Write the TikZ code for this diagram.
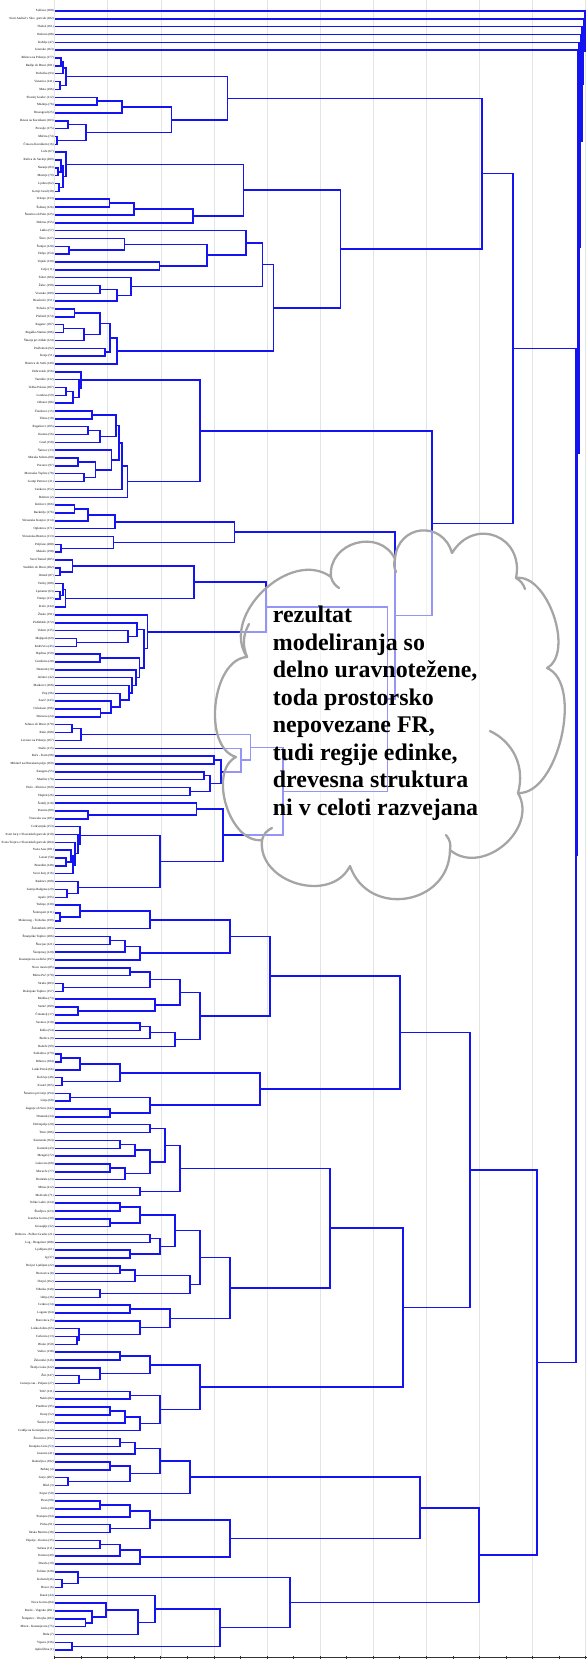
\documentclass[tikz,border=0pt]{standalone}
\usepackage{fontspec}
\setmainfont{Liberation Serif}
\usepackage{xcolor}
\usetikzlibrary{calc}

\definecolor{treeblue}{RGB}{20,20,240}
\definecolor{gridgray}{RGB}{228,228,228}
\definecolor{cloudgray}{RGB}{165,165,165}

\tikzset{
  leaf/.style = {anchor=east, inner sep=0.4pt, font=\fontsize{1.8}{2}\selectfont},
  link/.style = {draw=treeblue, line width=0.85pt},
  grid line/.style = {draw=gridgray, line width=0.4pt},
  axis/.style = {draw=black!80, line width=0.5pt},
  cloud edge/.style = {draw=cloudgray, line width=1.3pt, line join=round,
                       fill=white, fill opacity=0.55, draw opacity=1},
  crease/.style = {draw=cloudgray, line width=1.3pt, line cap=round}
}

% join two branches at height #4
\newcommand{\mrg}[4]{%
  \draw[link] (#2) -- (#4,0 |- #2) -- (#4,0 |- #3) -- (#3);
  \coordinate (#1) at ($(#4,0 |- #2)!.5!(#4,0 |- #3)$);
}

\begin{document}
\begin{tikzpicture}[x={(0.02cm,0)}, y={(0,-0.02cm)}]
\useasboundingbox (0,0) rectangle (587,1659);

% grid and axis
\foreach \t in {0,2,...,20}
  \draw[grid line] (54.7+26.55*\t,0) -- (54.7+26.55*\t,1657);
\draw[axis] (54.7,1657) -- (587,1657);
\foreach \t in {0,...,20}
  \draw[axis] (54.7+26.55*\t,1655.5) -- (54.7+26.55*\t,1658.5);

% leaves
\foreach \nm [count=\i] in {
Solčava (180), Sveti Andraž v Slov. goricah (182), Hodoš (161), Osilnica (88), Kobilje (47), Jezersko (163),
Ribnica na Pohorju (177), Radlje ob Dravi (101), Podvelka (93), Vuzenica (141), Muta (106),
Slovenj Gradec (112), Mislinja (76), Dravograd (25), Ravne na Koroškem (103), Prevalje (175), Mežica (74), Črna na Koroškem (16),
Luče (67), Rečica ob Savinji (209), Nazarje (83), Mozirje (79), Ljubno (62), Gornji Grad (30),
Velenje (133), Šoštanj (126), Šmartno ob Paki (125), Dobrna (155), Laško (57), Štore (127), Šentjur (120), Dobje (154),
Vojnik (139), Celje (11), Tabor (184), Žalec (190), Vransko (189),
Braslovče (151), Polzela (173), Prebold (174), Rogatec (107), Rogaška Slatina (106), Šmarje pri Jelšah (124), Podčetrtek (92),
Kozje (51), Bistrica ob Sotli (149), Dobrovnik (156), Turnišče (132), Velika Polana (187), Lendava (59), Odranci (86),
Črenšovci (15), Tišina (10), Rogašovci (105), Kuzma (56), Grad (158), Šalovci (33),
Murska Sobota (80), Puconci (97), Moravske Toplice (78), Gornji Petrovci (31), Cankova (152), Beltinci (2), Križevci (166),
Razkrižje (176), Slovenske Konjice (114), Oplotnica (171), Slovenska Bistrica (113), Poljčane (200), Makole (198),
Sveti Tomaž (205), Središče ob Dravi (202), Ormož (87), Veržej (188), Ljutomer (63), Vitanje (137),
Zreče (144), Žetale (191), Podlehnik (172), Videm (135), Majšperk (69), Kidričevo (45), Hajdina (159), Gorišnica (28),
Destrnik (18), Juršinci (42), Markovci (168), Ptuj (96), Zavrč (143), Cirkulane (196), Dornava (24),
Selnica ob Dravi (178), Ruše (108), Lovrenc na Pohorju (167), Starše (115),
Rače - Fram (98), Miklavž na Dravskem polju (169), Kungota (55), Maribor (70), Hoče - Slivnica (160), Duplek (26),
Šentilj (118), Pesnica (89), Trnovska vas (185), Cerkvenjak (153), Sveti Jurij v Slovenskih goricah (210),
Sveta Trojica v Slovenskih goricah (204), Sveta Ana (181), Lenart (58), Benedikt (148), Sveti Jurij (116),
Radenci (100), Gornja Radgona (29), Apače (195),
Trebnje (130), Šentrupert (211), Mokronog - Trebelno (199), Žužemberk (193), Šmarješke Toplice (206), Škocjan (121),
Šentjernej (120), Kostanjevica na Krki (197), Novo mesto (85), Mirna Peč (170), Straža (203), Dolenjske Toplice (157),
Metlika (73), Semič (109), Črnomelj (17), Sevnica (110), Krško (54), Brežice (9), Radeče (99),
Sodražica (179), Ribnica (104), Loški Potok (66), Kočevje (48), Kostel (165), Šmartno pri Litiji (194), Litija (60),
Zagorje ob Savi (142), Hrastnik (34), Dobrepolje (20), Trzin (186), Komenda (164), Kamnik (43), Mengeš (72),
Lukovica (68), Moravče (77), Domžale (23), Mirna (212), Medvode (71),
Velike Lašče (134), Škofljica (123), Ivančna Gorica (39), Grosuplje (32), Dobrova - Polhov Gradec (21),
Log - Dragomer (208), Ljubljana (61), Ig (37), Dol pri Ljubljani (22), Brezovica (8), Horjul (162), Vrhnika (140),
Idrija (36), Cerkno (14), Logatec (64), Borovnica (5), Loška dolina (65), Cerknica (13), Bloke (150),
Vodice (138), Železniki (146), Škofja Loka (122), Žiri (147), Gorenja vas - Poljane (27), Tržič (131), Naklo (82),
Preddvor (95), Kranj (52), Šenčur (117), Cerklje na Gorenjskem (12), Žirovnica (192), Kranjska Gora (53),
Jesenice (41), Radovljica (102), Bohinj (4), Gorje (207), Bled (3), Koper (50),
Piran (90), Izola (40), Postojna (94), Pivka (91), Ilirska Bistrica (38), Hrpelje - Kozina (35), Sežana (111),
Komen (49), Divača (19), Tolmin (128), Kobarid (46), Bovec (6), Kanal (44), Nova Gorica (84),
Renče - Vogrsko (201), Šempeter - Vrtojba (183), Miren - Kostanjevica (75), Brda (7), Vipava (136), Ajdovščina (1)} {
  \node[leaf] (t\i) at (54.7,{11+7.843*(\i-1)}) {\nm};
  \coordinate (l\i) at (54.7,{11+7.843*(\i-1)});
}

% Koroška
\mrg{k1}{l7}{l8}{61}
\mrg{k2}{k1}{l9}{63}
\mrg{k3}{l10}{l11}{60}
\mrg{k4}{k2}{k3}{66}
\mrg{k5}{l12}{l13}{97}
\mrg{k6}{k5}{l14}{122}
\mrg{k7}{l15}{l16}{68}
\mrg{k8}{l17}{l18}{57}
\mrg{k9}{k7}{k8}{86}
\mrg{k10}{k6}{k9}{171.6}
\mrg{kk}{k4}{k10}{227.4}
% Savinjska
\mrg{s1}{l21}{l22}{58}
\mrg{s2}{l20}{s1}{61}
\mrg{s3}{l23}{l24}{59}
\mrg{s4}{s2}{s3}{63}
\mrg{s5}{l19}{s4}{66}
\mrg{s6}{l25}{l26}{109.6}
\mrg{s7}{s6}{l27}{134}
\mrg{s8}{s7}{l28}{193}
\mrg{ss}{s5}{s8}{243.5}
\mrg{t1}{l31}{l32}{69}
\mrg{t2}{l30}{t1}{124.7}
\mrg{t3}{l33}{l34}{159.6}
\mrg{t4}{t2}{t3}{206.9}
\mrg{t5}{l29}{t4}{246}
\mrg{t6}{l36}{l37}{100}
\mrg{t7}{t6}{l38}{116.8}
\mrg{t8}{l35}{t7}{131}
\mrg{t9}{t5}{t8}{262.3}
\mrg{t10}{l39}{l40}{74.7}
\mrg{t11}{l41}{l42}{63.7}
\mrg{t12}{t11}{l43}{84}
\mrg{t13}{t10}{t12}{100}
\mrg{t14}{l44}{l45}{105}
\mrg{t15}{t13}{t14}{110}
\mrg{t16}{t15}{l46}{116.8}
\mrg{tt}{t9}{t16}{273.6}
\mrg{a1b}{ss}{tt}{340.4}
\mrg{a1}{kk}{a1b}{482}
% Pomurska
\mrg{p1}{l49}{l50}{66}
\mrg{p2}{p1}{l51}{73}
\mrg{p3}{l48}{p2}{79}
\mrg{p4}{l47}{p3}{80.8}
\mrg{p5}{l52}{l53}{92}
\mrg{p6}{l54}{l55}{88}
\mrg{p7}{p6}{l56}{100}
\mrg{p8}{p5}{p7}{116}
\mrg{p9}{l58}{l59}{78}
\mrg{p10}{l60}{l61}{84}
\mrg{p11}{p9}{p10}{95.5}
\mrg{p12}{l57}{p11}{111.6}
\mrg{p13}{p8}{p12}{119}
\mrg{p14}{p13}{l62}{122}
\mrg{p15}{p14}{l63}{127.7}
\mrg{pp}{p4}{p15}{200}
% Podravska
\mrg{q1}{l64}{l65}{74.7}
\mrg{q2}{q1}{l66}{88}
\mrg{q3}{q2}{l67}{115}
\mrg{q4}{l69}{l70}{61}
\mrg{q5}{l68}{q4}{113.7}
\mrg{q6}{q3}{q5}{234.3}
\mrg{r1}{l72}{l73}{60}
\mrg{r2}{l71}{r1}{72.3}
\mrg{r3}{l75}{l76}{60}
\mrg{r4}{l74}{r3}{63}
\mrg{r5}{r4}{l77}{65.4}
\mrg{r6}{r2}{r5}{193.8}
\mrg{n1}{l81}{l82}{76.4}
\mrg{n2}{l80}{n1}{128}
\mrg{n3}{l79}{n2}{137}
\mrg{n4}{l90}{l91}{100.3}
\mrg{n5}{l89}{n4}{110.9}
\mrg{n6}{l88}{n5}{120.2}
\mrg{n7}{l87}{n6}{128.8}
\mrg{n8}{l86}{n7}{132}
\mrg{n9}{l85}{n8}{136}
\mrg{n10}{l83}{l84}{100}
\mrg{n11}{n10}{n9}{139.7}
\mrg{n12}{n3}{n11}{144}
\mrg{n13}{l78}{n12}{147.6}
\mrg{r7}{r6}{n13}{266}
\mrg{w1}{l92}{l93}{72}
\mrg{w2}{w1}{l94}{80.8}
\mrg{w3}{l96}{l97}{214}
\mrg{w4}{l98}{l99}{204}
\mrg{w4b}{l100}{l101}{190}
\mrg{w5}{w4}{w4b}{210}
\mrg{w6}{w3}{w5}{221.2}
\mrg{w7}{l95}{w6}{241}
\mrg{w8}{w2}{w7}{250.4}
\mrg{x1}{l103}{l104}{88}
\mrg{x2}{l102}{x1}{196.6}
\mrg{y1}{l109}{l110}{66}
\mrg{y2}{l108}{y1}{71}
\mrg{y3}{y2}{l111}{73}
\mrg{y4}{l107}{y3}{75}
\mrg{y5}{l106}{y4}{78}
\mrg{y6}{l105}{y5}{80}
\mrg{y7}{l113}{l114}{67}
\mrg{y8}{l112}{y7}{78}
\mrg{y9}{y6}{y8}{160}
\mrg{x4}{x2}{y9}{223}
\mrg{x5}{w8}{x4}{283}
\mrg{q7}{r7}{x5}{387.4}
\mrg{qq}{q6}{q7}{395}
\mrg{a2}{pp}{qq}{431.9}
\mrg{aa}{a1}{a2}{513}

% Dolenjska
\mrg{d1}{l116}{l117}{60}
\mrg{d2}{l115}{d1}{80}
\mrg{d3}{d2}{l118}{150}
\mrg{d4}{l119}{l120}{110}
\mrg{d5}{d4}{l121}{125}
\mrg{d6}{d5}{l122}{140}
\mrg{d7}{d3}{d6}{230}
\mrg{d8}{l123}{l124}{130}
\mrg{d9}{l125}{l126}{63}
\mrg{d10}{d8}{d9}{150}
\mrg{d11}{l128}{l129}{78}
\mrg{d12}{l127}{d11}{155}
\mrg{d13}{d10}{d12}{180}
\mrg{d14}{l130}{l131}{140}
\mrg{d15}{d14}{l132}{150}
\mrg{d16}{d15}{l133}{175}
\mrg{d17}{d13}{d16}{200}
\mrg{dd}{d7}{d17}{270}
% Kočevska, Zasavska
\mrg{e1}{l134}{l135}{61}
\mrg{e2}{e1}{l136}{80}
\mrg{e3}{l137}{l138}{62}
\mrg{e4}{e2}{e3}{120}
\mrg{e5}{l139}{l140}{70}
\mrg{e6}{l141}{l142}{110}
\mrg{e7}{e5}{e6}{150}
\mrg{ee}{e4}{e7}{260}
% Osrednjeslovenska
\mrg{o1}{l143}{l144}{150}
\mrg{o2}{l145}{l146}{120}
\mrg{o3}{o2}{l147}{135}
\mrg{o4}{l148}{l149}{110}
\mrg{o5}{o4}{l150}{125}
\mrg{o6}{o3}{o5}{150}
\mrg{o7}{o1}{o6}{165}
\mrg{o8}{l151}{l152}{140}
\mrg{o9}{o7}{o8}{180}
\mrg{o10}{l153}{l154}{120}
\mrg{o11}{l155}{l156}{110}
\mrg{o12}{o10}{o11}{140}
\mrg{o13}{l157}{l158}{150}
\mrg{o14}{l159}{l160}{130}
\mrg{o15}{o13}{o14}{160}
\mrg{o16}{o12}{o15}{175}
\mrg{o17}{l161}{l162}{120}
\mrg{o18}{o17}{l163}{135}
\mrg{o19}{l164}{l165}{100}
\mrg{o20}{o18}{o19}{190}
\mrg{o21}{o16}{o20}{200}
\mrg{o22}{l166}{l167}{130}
\mrg{o23}{l170}{l171}{77}
\mrg{o24}{l169}{o23}{79}
\mrg{o25}{l168}{o24}{140}
\mrg{o26}{o22}{o25}{170}
\mrg{o27}{o21}{o26}{230}
\mrg{oo}{o9}{o27}{330}
% Gorenjska
\mrg{h1}{l172}{l173}{120}
\mrg{h2}{l175}{l176}{79}
\mrg{h3}{l174}{h2}{100}
\mrg{h4}{h1}{h3}{150}
\mrg{h5}{l177}{l178}{130}
\mrg{h6}{l179}{l180}{110}
\mrg{h7}{h6}{l181}{125}
\mrg{h8}{h7}{l182}{140}
\mrg{h9}{h5}{h8}{160}
\mrg{h10}{h4}{h9}{200}
\mrg{h11}{l183}{l184}{120}
\mrg{h12}{h11}{l185}{135}
\mrg{h13}{l186}{l187}{110}
\mrg{h14}{l188}{l189}{68}
\mrg{h15}{h13}{h14}{130}
\mrg{h16}{h12}{h15}{160}
\mrg{h17}{h16}{l190}{190}
% Obalno-kraška
\mrg{c1}{l191}{l192}{100}
\mrg{c2}{c1}{l193}{130}
\mrg{c3}{l194}{l195}{110}
\mrg{c4}{c2}{c3}{150}
\mrg{c5}{l196}{l197}{100}
\mrg{c6}{c5}{l198}{120}
\mrg{c7}{c6}{l199}{140}
\mrg{cc}{c4}{c7}{230}
% Goriška
\mrg{g1}{l201}{l202}{62}
\mrg{g2}{l200}{g1}{78}
\mrg{g3}{l206}{l207}{85.4}
\mrg{g4}{l205}{g3}{92}
\mrg{g5}{l204}{g4}{106}
\mrg{g6}{g5}{l208}{138}
\mrg{g7}{l203}{g6}{155}
\mrg{g8}{l209}{l210}{72}
\mrg{g9}{g7}{g8}{220}
\mrg{gg}{g2}{g9}{290}
% upper joins of the lower part
\mrg{b1}{dd}{ee}{400}
\mrg{b2}{oo}{h10}{403}
\mrg{b3}{b1}{b2}{470}
\mrg{hc}{h17}{cc}{420}
\mrg{b4}{hc}{gg}{479}
\mrg{bb}{b3}{b4}{537}

% root
\mrg{rt1}{aa}{bb}{576}
\mrg{rt2}{l6}{rt1}{577.5}
\mrg{rt3}{l5}{rt2}{579}
\mrg{rt4}{l4}{rt3}{580.5}
\mrg{rt5}{l3}{rt4}{582}
\mrg{rt6}{l2}{rt5}{583.5}
\mrg{rt7}{l1}{rt6}{585}

% cloud with comment
\coordinate (cu1) at (247,657);
\coordinate (cu2) at (331,577);
\coordinate (cu3) at (395,559);
\coordinate (cu4) at (452,553);
\coordinate (cu5) at (516,578);
\coordinate (cu6) at (547,668);
\coordinate (cu7) at (518,793);
\coordinate (cu8) at (450,850);
\coordinate (cu9) at (350,866);
\coordinate (cu10) at (262,840);
\coordinate (cu11) at (236,757);
\path[cloud edge] (cu1) to[bend left=80, looseness=1.1] (cu2)
  to[bend left=80, looseness=1.35] (cu3)
  to[bend left=80, looseness=1.55] (cu4)
  to[bend left=80, looseness=1.6] (cu5)
  to[bend left=80, looseness=0.85] (cu6)
  to[bend left=80, looseness=0.8] (cu7)
  to[bend left=80, looseness=1.2] (cu8)
  to[bend left=80, looseness=1.4] (cu9)
  to[bend left=80, looseness=1.2] (cu10)
  to[bend left=80, looseness=0.95] (cu11)
  to[bend left=80, looseness=0.9] (cu1) -- cycle;
\draw[crease] (cu1) to[bend left=25] (249,624);
\draw[crease] (cu2) to[bend right=20] (339,588);
\draw[crease] (cu3) to[bend right=20] (396,572);
\draw[crease] (cu5) to[bend left=20] (525,589);
\draw[crease] (cu7) to[bend right=40] (490,731);
\draw[crease] (cu8) to[bend right=25] (446,835);
\draw[crease] (cu10) to[bend left=25] (272,828);

\node[anchor=north west, align=left, inner sep=0pt,
      font=\fontsize{13.6}{15.7}\selectfont\bfseries] (note) at (272.6,605.5)
  {rezultat\\modeliranja so\\delno uravnotežene,\\toda prostorsko\\nepovezane FR,\\tudi regije edinke,\\drevesna struktura\\ni v celoti razvejana};
\end{tikzpicture}
\end{document}
